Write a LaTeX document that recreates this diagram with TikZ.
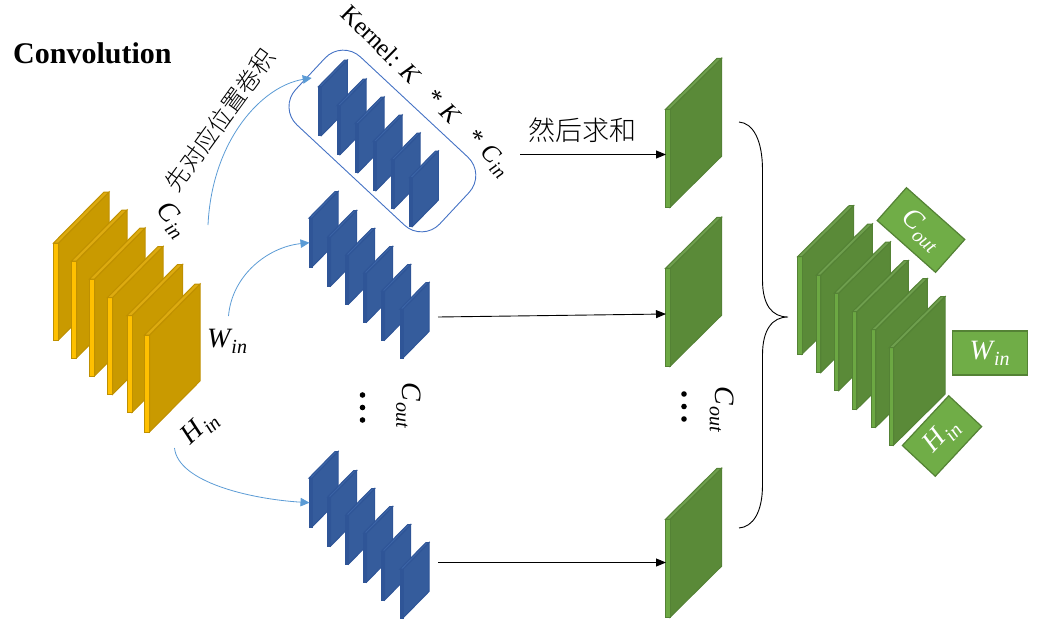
\documentclass[tikz,border=0pt]{standalone}
\usepackage{fontspec}
\setmainfont{Liberation Serif}
\newfontfamily\cjk{Noto Sans CJK SC Light}
\usetikzlibrary{arrows.meta}
\definecolor{yelface}{HTML}{C99A00}
\definecolor{yelstrip}{HTML}{FFC000}
\definecolor{yeltop}{HTML}{DDAB10}
\definecolor{yeledge}{HTML}{BF9000}
\definecolor{bluface}{HTML}{355C9C}
\definecolor{blustrip}{HTML}{2F5597}
\definecolor{blutop}{HTML}{3D66A8}
\definecolor{bluedge}{HTML}{2F5597}
\definecolor{grnface}{HTML}{5A8A38}
\definecolor{grnstrip}{HTML}{6CA843}
\definecolor{grntop}{HTML}{6F9F4E}
\definecolor{grnedge}{HTML}{548235}
\definecolor{curveblue}{HTML}{5B9BD5}
\definecolor{kernelblue}{HTML}{4472C4}
\definecolor{boxgreen}{HTML}{70AD47}
\newcommand{\fs}[1]{\fontsize{#1}{#1}\selectfont}
\newcommand{\msub}[2]{{\itshape #1\hspace{0.04em}\raisebox{-0.22em}{\fs{20}#2}}}
% family, x, y, width of slant, rise, height, thickness
\newcommand{\plate}[7]{%
  \begin{scope}[shift={(#2,#3)},line width=1pt,line join=miter,draw=#1edge]
    \filldraw[fill=#1face] (#7,0) -- ({#7+#4},{-#5}) -- ({#7+#4},{#6-#5}) -- (#7,#6) -- cycle;
    \filldraw[fill=#1strip] (0,0) -- (#7,0) -- (#7,#6) -- (0,#6) -- cycle;
    \filldraw[fill=#1top] (0,0) -- (#4,{-#5}) -- ({#4+#7},{-#5}) -- (#7,0) -- cycle;
  \end{scope}}
\newcommand{\bluestack}[2]{%
  \foreach \a/\b in {0/0,18.7/19,36.7/37,54.7/55,72.7/73,91/91}
    {\plate{blu}{{#1+\a}}{{#2+\b}}{26}{26.5}{49}{3}}}
\tikzset{
  curve/.style={curveblue,line width=0.8pt,-{Triangle[length=9pt,width=8.5pt]}},
  flow/.style={black,line width=0.9pt,-{Triangle[length=10pt,width=8pt]}},
  lab/.style={inner sep=0pt,font=\fs{28}},
  greenbox/.style={draw=grnedge,fill=boxgreen,line width=1.2pt,text=white,inner sep=0pt,font=\fs{28}},
  dot/.style={circle,fill=black,inner sep=0pt,minimum size=5.6pt}
}
\begin{document}
\begin{tikzpicture}[x=1pt,y=-1pt]
\useasboundingbox (0,0) rectangle (1039,627);

\node[anchor=base west,inner sep=0pt,font=\fs{30}\bfseries] (title) at (13,63) {Convolution};

% input stack
\foreach \a/\b in {53.5/243,71.5/261,89.5/279,107.5/297.5,127/315.5,144.5/335}
  {\plate{yel}{\a}{\b}{50.5}{51}{97}{5}}

% blue stacks
\bluestack{318.3}{86.7}
\bluestack{309}{218}
\bluestack{309}{478}

% kernel outline
\node[draw=kernelblue,line width=0.9pt,rounded corners=25pt,minimum width=197pt,minimum height=93pt,rotate=-43] (kernel) at (382.4,141) {};
\node[lab,font=\fs{25},rotate=-44.5] (kerneltext) at (425,91.5) {Kernel: \textit{K}\hspace{0.75em}*\hspace{0.3em}\textit{K}\hspace{0.75em}*\hspace{0.3em}{\itshape C\hspace{0.04em}\raisebox{-0.22em}{\fs{19}in}}};

% middle plates
\foreach \y in {109.3,268.3,519.3}
  {\plate{grn}{665.5}{\y}{51.5}{51}{98}{4.5}}

% output stack
\foreach \a/\b in {797.5/256.7,816.3/275,834.3/293,852.3/311.7,871.3/329.7,889/347.7}
  {\plate{grn}{\a}{\b}{51.5}{51}{97.5}{4.5}}

% connector ends
\coordinate (cs1) at (208,225);
\coordinate (ce1) at (311.7,78);
\coordinate (cs2) at (228.5,316);
\coordinate (ce2) at (309.5,242.7);
\coordinate (cs3) at (174.5,448);
\coordinate (ce3) at (309.5,502.7);
\coordinate (fs1) at (520,154.5);
\coordinate (fe1) at (666,154.5);
\coordinate (fs2) at (438,317);
\coordinate (fe2) at (666,314);
\coordinate (fs3) at (438,562.5);
\coordinate (fe3) at (666,562.5);
\coordinate (bt) at (739,122);
\coordinate (bb) at (739,528);
\coordinate (bm) at (788,317);

\draw[curve] (cs1) .. controls (212,140) and (262,86) .. (ce1);
\draw[curve] (cs2) .. controls (232,275) and (268,247) .. (ce2);
\draw[curve] (cs3) .. controls (178,482) and (250,499) .. (ce3);

\draw[flow] (fs1) -- (fe1);
\draw[flow] (fs2) -- (fe2);
\draw[flow] (fs3) -- (fe3);

\draw[black,line width=0.9pt] (bt) .. controls (753,123) and (762.5,140) .. (762.5,170)
  -- (762.5,280) .. controls (762.5,305) and (772,317) .. (bm)
  .. controls (772,317) and (762.5,330) .. (762.5,355)
  -- (762.5,485) .. controls (762.5,512) and (753,527) .. (bb);

% labels
\node[lab,font=\fs{24}\cjk,rotate=54] (conv) at (220,120) {先对应位置卷积};
\node[lab,font=\fs{27}\cjk] (sum) at (582,130) {然后求和};
\node[lab,rotate=-50] (cin) at (172,220) {\msub{C}{in}};
\node[lab] (win) at (227,341) {\msub{W}{in}};
\node[lab,rotate=43] (hin) at (200,428) {\msub{H}{in}};
\node[lab,rotate=-90] (cout1) at (408.5,405.5) {\msub{C}{out}};
\node[lab,rotate=-90] (cout2) at (722,409.5) {\msub{C}{out}};

\node[dot] (d1) at (362.5,395) {};
\node[dot] (d2) at (362.5,407.5) {};
\node[dot] (d3) at (362.5,420) {};
\node[dot] (d4) at (684,394) {};
\node[dot] (d5) at (684,406.5) {};
\node[dot] (d6) at (684,419) {};

% output labels
\node[greenbox,minimum width=78pt,minimum height=44pt,rotate=-41.6] (bc) at (921,230) {\msub{C}{out}};
\node[greenbox,minimum width=75pt,minimum height=44pt] (bw) at (989.7,353) {\msub{W}{in}};
\node[greenbox,minimum width=68pt,minimum height=45pt,rotate=47] (bh) at (942,436) {\msub{H}{in}};
\end{tikzpicture}
\end{document}
